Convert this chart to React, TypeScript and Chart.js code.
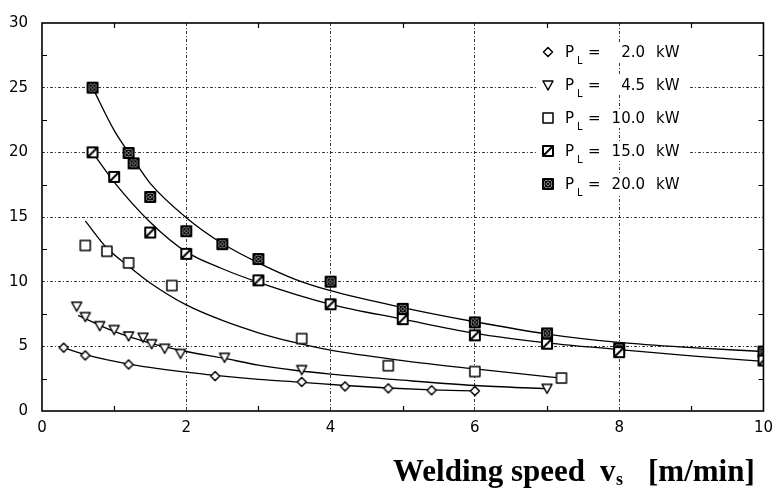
import React, { useEffect, useRef } from 'react';
import { Chart, registerables } from 'chart.js';

Chart.register(...registerables);

// ---- axes ----
const X_MIN = 0, X_MAX = 10, X_STEP = 2;
const Y_MIN = 0, Y_MAX = 30, Y_STEP = 5;
const xMinorTicks = [1, 3, 5, 7, 9];
const yMinorTicks = [2.5, 7.5, 12.5, 17.5, 22.5, 27.5];

// ---- legend labels (laser power P_L in kW) ----
const powerLabels = ['2.0', '4.5', '10.0', '15.0', '20.0'];
const markerKinds = ['diamond', 'triangle', 'square', 'slash', 'cross'];

// ---- measured points ----
const p2X = [0.3, 0.6, 1.2, 2.4, 3.6, 4.2, 4.8, 5.4, 6.0];
const p2Y = [4.9, 4.3, 3.6, 2.7, 2.25, 1.9, 1.75, 1.6, 1.55];

const p45X = [0.48, 0.6, 0.8, 1.0, 1.2, 1.4, 1.52, 1.7, 1.92, 2.53, 3.6, 7.0];
const p45Y = [8.1, 7.3, 6.6, 6.3, 5.8, 5.7, 5.2, 4.85, 4.45, 4.15, 3.2, 1.75];

const p10X = [0.6, 0.9, 1.2, 1.8, 3.6, 4.8, 6.0, 7.2];
const p10Y = [12.8, 12.35, 11.45, 9.7, 5.6, 3.5, 3.05, 2.55];

const p15X = [0.7, 1.0, 1.5, 2.0, 3.0, 4.0, 5.0, 6.0, 7.0, 8.0, 10.0];
const p15Y = [20.0, 18.1, 13.8, 12.15, 10.1, 8.25, 7.1, 5.85, 5.2, 4.55, 3.9];

const p20X = [0.7, 1.2, 1.27, 1.5, 2.0, 2.5, 3.0, 4.0, 5.0, 6.0, 7.0, 8.0, 10.0];
const p20Y = [25.0, 19.95, 19.15, 16.55, 13.9, 12.9, 11.75, 10.0, 7.9, 6.85, 6.0, 4.85, 4.6];

// ---- fitted curves ----
const f2X = [0.3, 0.6, 1.2, 2.0, 2.4, 3.0, 3.6, 4.2, 4.8, 5.4, 6.0];
const f2Y = [4.9, 4.35, 3.63, 3.0, 2.75, 2.45, 2.22, 1.97, 1.78, 1.64, 1.55];

const f45X = [0.5, 1.0, 1.5, 2.0, 2.5, 3.0, 3.5, 4.0, 5.0, 6.0, 7.0];
const f45Y = [7.4, 6.15, 5.25, 4.6, 4.1, 3.55, 3.15, 2.85, 2.38, 1.97, 1.72];

const f10X = [0.6, 0.9, 1.2, 1.5, 2.0, 2.5, 3.0, 3.5, 4.0, 5.0, 6.0, 7.0, 7.2];
const f10Y = [14.7, 12.6, 11.2, 9.9, 8.2, 7.0, 6.05, 5.3, 4.7, 3.9, 3.25, 2.65, 2.55];

const f15X = [0.7, 1.0, 1.5, 2.0, 2.5, 3.0, 4.0, 5.0, 6.0, 7.0, 8.0, 9.0, 10.0];
const f15Y = [20.0, 17.7, 14.6, 12.3, 11.0, 9.95, 8.25, 7.1, 6.0, 5.27, 4.75, 4.27, 3.83];

const f20X = [0.7, 1.0, 1.25, 1.5, 2.0, 2.5, 3.0, 3.5, 4.0, 5.0, 6.0, 7.0, 8.0, 9.0, 10.0];
const f20Y = [25.0, 21.7, 19.6, 17.6, 14.95, 12.95, 11.45, 10.2, 9.3, 8.0, 6.9, 5.95, 5.3, 4.9, 4.6];

const pointSets = [[p2X, p2Y], [p45X, p45Y], [p10X, p10Y], [p15X, p15Y], [p20X, p20Y]];
const fitSets = [[f2X, f2Y], [f45X, f45Y], [f10X, f10Y], [f15X, f15Y], [f20X, f20Y]];

const toXY = (xs: number[], ys: number[]) => xs.map((x, i) => ({ x, y: ys[i] }));

function makeMarker(kind: string): HTMLCanvasElement {
  const s = 14;
  const c = document.createElement('canvas');
  c.width = s;
  c.height = s;
  const g = c.getContext('2d')!;
  g.translate(s / 2, s / 2);
  g.strokeStyle = '#000';
  g.fillStyle = '#fff';
  g.lineWidth = 1.5;
  g.lineJoin = 'round';
  if (kind === 'diamond') {
    g.beginPath();
    g.moveTo(0, -4.5); g.lineTo(4.5, 0); g.lineTo(0, 4.5); g.lineTo(-4.5, 0); g.closePath();
    g.fill(); g.stroke();
  } else if (kind === 'triangle') {
    g.beginPath();
    g.moveTo(-5, -4); g.lineTo(5, -4); g.lineTo(0, 5); g.closePath();
    g.fill(); g.stroke();
  } else {
    g.beginPath();
    g.rect(-5, -5, 10, 10);
    g.fill();
    g.lineWidth = kind === 'square' ? 1.5 : 2;
    g.stroke();
    if (kind === 'slash') {
      g.lineWidth = 2;
      g.beginPath(); g.moveTo(-5, 5); g.lineTo(5, -5); g.stroke();
    } else if (kind === 'cross') {
      g.lineWidth = 1.4;
      g.beginPath(); g.moveTo(-5, -5); g.lineTo(5, 5); g.moveTo(5, -5); g.lineTo(-5, 5); g.stroke();
      g.beginPath(); g.arc(0, 0, 3, 0, Math.PI * 2); g.stroke();
    }
  }
  return c;
}

export default function App() {
  const ref = useRef<HTMLCanvasElement | null>(null);

  useEffect(() => {
    document.body.style.margin = '0';
    const markers = markerKinds.map(makeMarker);

    const datasets: any[] = [];
    fitSets.forEach(([xs, ys], i) => {
      datasets.push({
        label: 'fit ' + powerLabels[i],
        data: toXY(xs, ys),
        showLine: true,
        borderColor: '#000',
        borderWidth: 1.3,
        pointRadius: 0,
        cubicInterpolationMode: 'monotone',
        order: 2,
      });
    });
    pointSets.forEach(([xs, ys], i) => {
      datasets.push({
        label: 'P_L = ' + powerLabels[i] + ' kW',
        data: toXY(xs, ys),
        showLine: false,
        pointStyle: markers[i],
        pointRadius: 6,
        order: 1,
      });
    });

    const gridColor = (min: number, max: number) => (ctx: any) =>
      ctx.tick && (ctx.tick.value === min || ctx.tick.value === max) ? 'rgba(0,0,0,0)' : '#3a3a3a';

    const decor = {
      id: 'decor',
      afterDraw(chart: any) {
        const { ctx, chartArea: a, scales } = chart;
        const xs = scales.x, ys = scales.y;
        ctx.save();
        // frame
        ctx.strokeStyle = '#000';
        ctx.lineWidth = 1.6;
        ctx.strokeRect(a.left, a.top, a.right - a.left, a.bottom - a.top);
        // inward minor ticks
        ctx.lineWidth = 1.2;
        ctx.beginPath();
        xMinorTicks.forEach((v) => {
          const px = Math.round(xs.getPixelForValue(v)) + 0.5;
          ctx.moveTo(px, a.bottom); ctx.lineTo(px, a.bottom - 5);
          ctx.moveTo(px, a.top); ctx.lineTo(px, a.top + 5);
        });
        yMinorTicks.forEach((v) => {
          const py = Math.round(ys.getPixelForValue(v)) + 0.5;
          ctx.moveTo(a.left, py); ctx.lineTo(a.left + 5, py);
          ctx.moveTo(a.right, py); ctx.lineTo(a.right - 5, py);
        });
        ctx.stroke();

        // legend
        const lx = a.left + 506;
        const ly0 = a.top + 29;
        const dy = 33;
        powerLabels.forEach((lab, i) => {
          const cy = ly0 + dy * i;
          ctx.fillStyle = '#fff';
          ctx.fillRect(lx - 11, cy - 9, 153, 19);
          const m = markers[i];
          ctx.drawImage(m, lx - m.width / 2, cy - m.height / 2);
          ctx.fillStyle = '#000';
          ctx.textBaseline = 'alphabetic';
          ctx.textAlign = 'left';
          ctx.font = '15px "DejaVu Sans"';
          ctx.fillText('P', lx + 17, cy + 5);
          ctx.font = '10px "DejaVu Sans"';
          ctx.fillText('L', lx + 29, cy + 12);
          ctx.font = '15px "DejaVu Sans"';
          ctx.fillText('=', lx + 40, cy + 5);
          ctx.textAlign = 'right';
          ctx.fillText(lab, lx + 97, cy + 5);
          ctx.textAlign = 'left';
          ctx.fillText('kW', lx + 108, cy + 5);
        });

        // x-axis title
        ctx.fillStyle = '#000';
        ctx.textAlign = 'left';
        ctx.textBaseline = 'alphabetic';
        ctx.font = 'bold 31px "Liberation Serif"';
        ctx.fillText('Welding speed', 393, 481);
        ctx.fillText('v', 600, 481);
        ctx.font = 'bold 18px "Liberation Serif"';
        ctx.fillText('s', 616, 485);
        ctx.font = 'bold 31px "Liberation Serif"';
        ctx.fillText('[m/min]', 648, 481);
        ctx.restore();
      },
    };

    const chart = new Chart(ref.current!, {
      type: 'scatter',
      data: { datasets },
      options: {
        animation: false,
        responsive: false,
        devicePixelRatio: 1,
        layout: { padding: { left: 0, right: 11, top: 14, bottom: 0 } },
        plugins: { legend: { display: false }, tooltip: { enabled: false } },
        scales: {
          x: {
            type: 'linear',
            min: X_MIN,
            max: X_MAX,
            afterFit: (s: any) => { s.height = 89; },
            ticks: {
              stepSize: X_STEP,
              padding: 8,
              color: '#000',
              font: { family: '"DejaVu Sans"', size: 15 },
              maxRotation: 0,
            },
            grid: { color: gridColor(X_MIN, X_MAX), lineWidth: 1, drawTicks: false },
            border: { display: false, dash: [3, 2, 1, 2] },
          },
          y: {
            type: 'linear',
            min: Y_MIN,
            max: Y_MAX,
            afterFit: (s: any) => { s.width = 42; },
            ticks: {
              stepSize: Y_STEP,
              padding: 14,
              color: '#000',
              font: { family: '"DejaVu Sans"', size: 15 },
            },
            grid: { color: gridColor(Y_MIN, Y_MAX), lineWidth: 1, drawTicks: false },
            border: { display: false, dash: [3, 2, 1, 2] },
          },
        },
      },
      plugins: [decor],
    });
    return () => chart.destroy();
  }, []);

  return (
    <div style={{ width: 781, height: 500, background: '#fff' }}>
      <canvas ref={ref} width={781} height={500} style={{ display: 'block', width: 781, height: 500 }} />
    </div>
  );
}
